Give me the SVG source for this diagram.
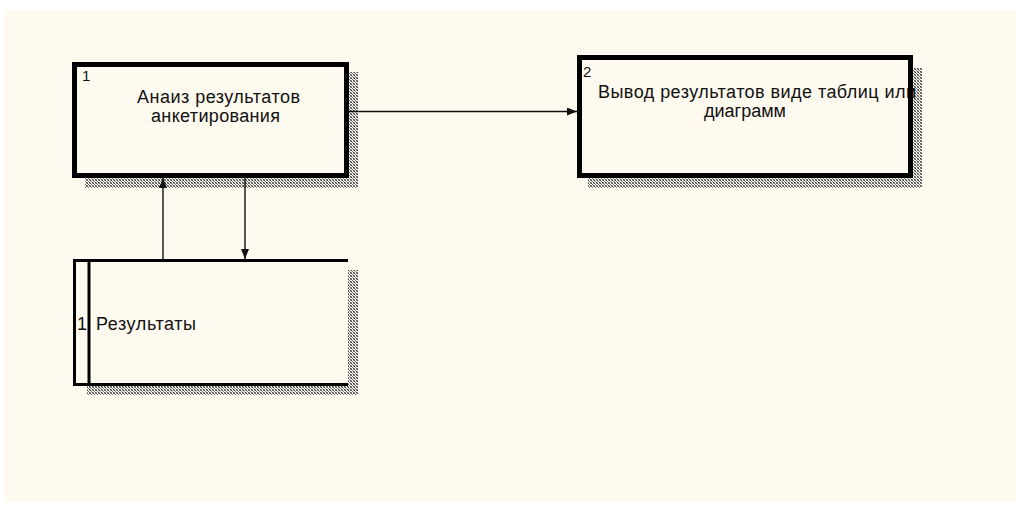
<svg xmlns="http://www.w3.org/2000/svg" width="1016" height="508" viewBox="0 0 1016 508">
  <style>
    .frame { fill: none; stroke: #000; stroke-width: 5; }
    .store { fill: none; stroke: #000; stroke-width: 3; }
    .shadow { fill: url(#hatch); }
    .label { font-family: "Liberation Sans", Arial, sans-serif; font-size: 18px; fill: #111; }
    .num { font-family: "Liberation Sans", Arial, sans-serif; font-size: 15px; fill: #111; }
    .flow { fill: none; stroke: #111; stroke-width: 1.4; }
  </style>
  <defs>
    <!-- dotted drop-shadow texture -->
    <pattern id="hatch" width="3" height="3" patternUnits="userSpaceOnUse">
      <rect x="0" y="0" width="1" height="1" fill="#444"/>
      <rect x="1" y="1" width="1" height="1" fill="#777"/>
      <rect x="2" y="2" width="1" height="1" fill="#444"/>
      <rect x="2" y="0" width="1" height="1" fill="#999"/>
      <rect x="0" y="2" width="1" height="1" fill="#999"/>
    </pattern>
    <marker id="arrow" viewBox="0 0 10 8" refX="10" refY="4" markerWidth="10" markerHeight="8" markerUnits="userSpaceOnUse" orient="auto">
      <path d="M0,0 L10,4 L0,8 z" fill="#111"/>
    </marker>
  </defs>

  <!-- canvas -->
  <rect x="0" y="0" width="1016" height="508" fill="#ffffff"/>
  <rect x="4" y="10" width="1012" height="492" fill="#fefaef"/>

  <!-- process 1 -->
  <g id="process-1">
    <rect class="shadow" x="349" y="72" width="9" height="116"/>
    <rect class="shadow" x="85" y="178" width="264" height="10"/>
    <rect x="74.5" y="64.5" width="272" height="111" fill="#fefaef"/>
    <text class="num" x="82" y="81">1</text>
    <text class="label" x="218.5" y="103" text-anchor="middle" textLength="163" lengthAdjust="spacing">Анаиз результатов</text>
    <text class="label" x="215.5" y="122" text-anchor="middle" textLength="129" lengthAdjust="spacing">анкетирования</text>
    <rect class="frame" x="74.5" y="64.5" width="272" height="111"/>
  </g>

  <!-- process 2 -->
  <g id="process-2">
    <rect class="shadow" x="913" y="68" width="9" height="120"/>
    <rect class="shadow" x="588" y="178" width="325" height="10"/>
    <rect x="579.5" y="57.5" width="331" height="118" fill="#fefaef"/>
    <text class="num" x="583" y="77">2</text>
    <text class="label" x="598" y="98" textLength="318" lengthAdjust="spacing">Вывод результатов виде таблиц или</text>
    <text class="label" x="745" y="117" text-anchor="middle">диаграмм</text>
    <rect class="frame" x="579.5" y="57.5" width="331" height="118"/>
  </g>

  <!-- data store 1 -->
  <g id="store-1">
    <rect class="shadow" x="348" y="270" width="10" height="125"/>
    <rect class="shadow" x="87" y="386" width="261" height="9"/>
    <path class="store" d="M348,260.5 H74.5 V384.5 H348 M89,260.5 V384.5"/>
    <text class="label" x="77" y="330">1</text>
    <text class="label" x="96" y="330" textLength="100" lengthAdjust="spacing">Результаты</text>
  </g>

  <!-- flows -->
  <g id="connectors">
    <path class="flow" d="M349,111.5 H577" marker-end="url(#arrow)"/>
    <path class="flow" d="M163,259 V178" marker-end="url(#arrow)"/>
    <path class="flow" d="M245,178 V259" marker-end="url(#arrow)"/>
  </g>
</svg>
